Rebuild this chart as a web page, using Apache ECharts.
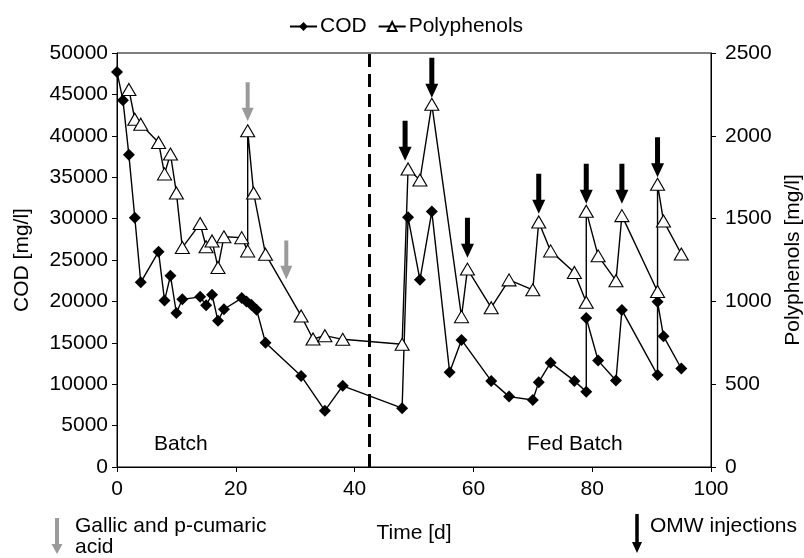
<!DOCTYPE html>
<html>
<head>
<meta charset="utf-8">
<script src="https://cdn.jsdelivr.net/npm/echarts@6/dist/echarts.min.js"></script>
<style>
  html, body { margin: 0; padding: 0; background: #fff; }
  #chart { width: 804px; height: 558px; }
</style>
</head>
<body>
<div id="chart"></div>
<script>
// 数据：时间 [d] 与数值
var codDays = [0, 1, 2, 3, 4, 7, 8, 9, 10, 11, 14, 15, 16, 17, 18, 21, 21.8, 22.6, 23.5, 25, 31, 35, 38,
  48, 49, 51, 53, 56, 58, 63, 66, 70, 71, 73, 77, 79, 79, 81, 84, 85, 91, 91, 92, 95];
var codValues = [47700, 44300, 37700, 30100, 22300, 26000, 20100, 23100, 18600, 20250, 20550, 19550, 20800, 17650, 19050,
  20400, 20000, 19600, 19000, 15000, 11000, 6800, 9800,
  7100, 30150, 22600, 30850, 11450, 15350, 10400, 8500, 8100, 10250, 12600, 10400, 9100, 18000, 12850, 10450, 18950,
  11100, 19950, 15800, 11900];

var polyDays = [2, 3, 4, 7, 8, 9, 10, 11, 14, 15, 16, 17, 18, 21, 22, 22, 23, 25, 31, 33, 35, 38,
  48, 49, 51, 53, 58, 59, 63, 66, 70, 71, 73, 77, 79, 79, 81, 84, 85, 91, 91, 92, 95];
var polyValues = [2280, 2100, 2070, 1960, 1770, 1890, 1655, 1325, 1470, 1330, 1365, 1205, 1390, 1385, 1305, 2030, 1655,
  1285, 912, 773, 793, 771,
  741, 1800, 1733, 2190, 908, 1195, 962, 1130, 1070, 1480, 1305, 1175, 995, 1545, 1275, 1125, 1518, 1060, 1707, 1486, 1286];

var xTicks = [0, 20, 40, 60, 80, 100];
var codTicks = [0, 5000, 10000, 15000, 20000, 25000, 30000, 35000, 40000, 45000, 50000];
var polyTicks = [0, 500, 1000, 1500, 2000, 2500];

// 箭头标注（按左轴 COD 坐标）
var gallicArrowDays = [22, 28.5];
var gallicArrowY = [44100, 25000];
var omwArrowDays = [48.5, 53, 59, 71, 79, 85, 91];
var omwArrowY = [39400, 47000, 27700, 33000, 34200, 34200, 37400];

var phaseSplitDay = 42.5;

function zip(a, b) {
  var out = [];
  for (var i = 0; i < a.length; i++) out.push([a[i], b[i]]);
  return out;
}

// 向下箭头（多边形）
function arrowPts(cx, top, bottom, shaft, head, headLen) {
  var s = shaft / 2, h = head / 2, y = bottom - headLen;
  return [[cx - s, top], [cx + s, top], [cx + s, y], [cx + h, y], [cx, bottom], [cx - h, y], [cx - s, y]];
}

var blackArrow = 'path://M4,0 L9,0 L9,26 L13,26 L6.5,40 L0,26 L4,26 Z';
var grayArrow = 'path://M4,0 L8,0 L8,26 L12,26 L6,40 L0,26 L4,26 Z';
var font = 'Liberation Sans, Arial, sans-serif';
var fs = 21;
var plain = function (v) { return String(v); };

var myChart = echarts.init(document.getElementById('chart'));
var option = {
  backgroundColor: '#fff',
  textStyle: { fontFamily: font, color: '#000' },
  animation: false,
  legend: {
    data: ['COD', 'Polyphenols'],
    left: 284,
    top: 11,
    itemWidth: 27,
    itemHeight: 11,
    itemGap: 11,
    textStyle: { fontSize: fs, color: '#000', fontFamily: font, padding: [0, 0, 0, -2] }
  },
  grid: {
    left: 117, right: 93, top: 53, bottom: 91,
    outerBoundsMode: 'none',
    show: true, borderColor: '#000', borderWidth: 1
  },
  xAxis: {
    type: 'value',
    min: 0, max: 100, interval: 20,
    name: 'Time [d]',
    nameLocation: 'middle',
    nameGap: 56,
    nameTextStyle: { fontSize: fs, color: '#000' },
    axisLine: { lineStyle: { color: '#000', width: 1 } },
    axisTick: { show: true, length: 5, lineStyle: { color: '#000' } },
    axisLabel: { fontSize: fs, color: '#000', margin: 12, formatter: plain },
    splitLine: { show: false }
  },
  yAxis: [{
    type: 'value',
    min: 0, max: 50000, interval: 5000,
    name: 'COD [mg/l]',
    nameLocation: 'middle',
    nameRotate: 90,
    nameGap: 84,
    nameTextStyle: { fontSize: fs, color: '#000' },
    axisLine: { show: true, lineStyle: { color: '#000' } },
    axisTick: { show: true, length: 5, lineStyle: { color: '#000' } },
    axisLabel: { fontSize: fs, color: '#000', margin: 9, formatter: plain },
    splitLine: { show: false }
  }, {
    type: 'value',
    min: 0, max: 2500, interval: 500,
    name: 'Polyphenols [mg/l]',
    nameLocation: 'middle',
    nameRotate: 90,
    nameGap: 68,
    nameTextStyle: { fontSize: fs, color: '#000' },
    axisLine: { show: true, lineStyle: { color: '#000' } },
    axisTick: { show: true, length: 5, lineStyle: { color: '#000' } },
    axisLabel: { fontSize: fs, color: '#000', margin: 14, formatter: plain },
    splitLine: { show: false }
  }],
  series: [{
    name: 'COD',
    type: 'line',
    data: zip(codDays, codValues),
    symbol: 'diamond',
    symbolSize: 12,
    lineStyle: { color: '#000', width: 1.4 },
    itemStyle: { color: '#000' },
    z: 3,
    markLine: {
      silent: true,
      symbol: 'none',
      label: { show: false },
      lineStyle: { color: '#000', type: [13, 7], width: 3 },
      data: [{ xAxis: phaseSplitDay }]
    }
  }, {
    name: 'Polyphenols',
    type: 'line',
    yAxisIndex: 1,
    data: zip(polyDays, polyValues),
    symbol: 'triangle',
    symbolSize: [14, 12],
    lineStyle: { color: '#000', width: 1.4 },
    itemStyle: { color: '#fff', borderColor: '#000', borderWidth: 1.1 },
    z: 4
  }, {
    name: 'gallic',
    type: 'scatter',
    silent: true,
    data: zip(gallicArrowDays, gallicArrowY),
    symbol: grayArrow,
    symbolSize: [12, 39],
    itemStyle: { color: '#9a9a9a', opacity: 1 }
  }, {
    name: 'omw',
    type: 'scatter',
    silent: true,
    data: zip(omwArrowDays, omwArrowY),
    symbol: blackArrow,
    symbolSize: [13, 40],
    itemStyle: { color: '#000', opacity: 1 }
  }],
  graphic: [
    { type: 'text', x: 154, y: 434, style: { text: 'Batch', fontSize: fs, fill: '#000', fontFamily: font } },
    { type: 'text', x: 527, y: 434, style: { text: 'Fed Batch', fontSize: fs, fill: '#000', fontFamily: font } },
    { type: 'polygon', shape: { points: arrowPts(57, 518, 554, 4, 11, 10) }, style: { fill: '#9a9a9a' } },
    { type: 'text', x: 75, y: 516, style: { text: 'Gallic and p-cumaric', fontSize: fs, fill: '#000', fontFamily: font } },
    { type: 'text', x: 75, y: 537, style: { text: 'acid', fontSize: fs, fill: '#000', fontFamily: font } },
    { type: 'polygon', shape: { points: arrowPts(637, 514, 553, 3.5, 10, 11) }, style: { fill: '#000' } },
    { type: 'text', x: 650, y: 516, style: { text: 'OMW injections', fontSize: fs, fill: '#000', fontFamily: font } }
  ]
};
myChart.setOption(option);
</script>
</body>
</html>
